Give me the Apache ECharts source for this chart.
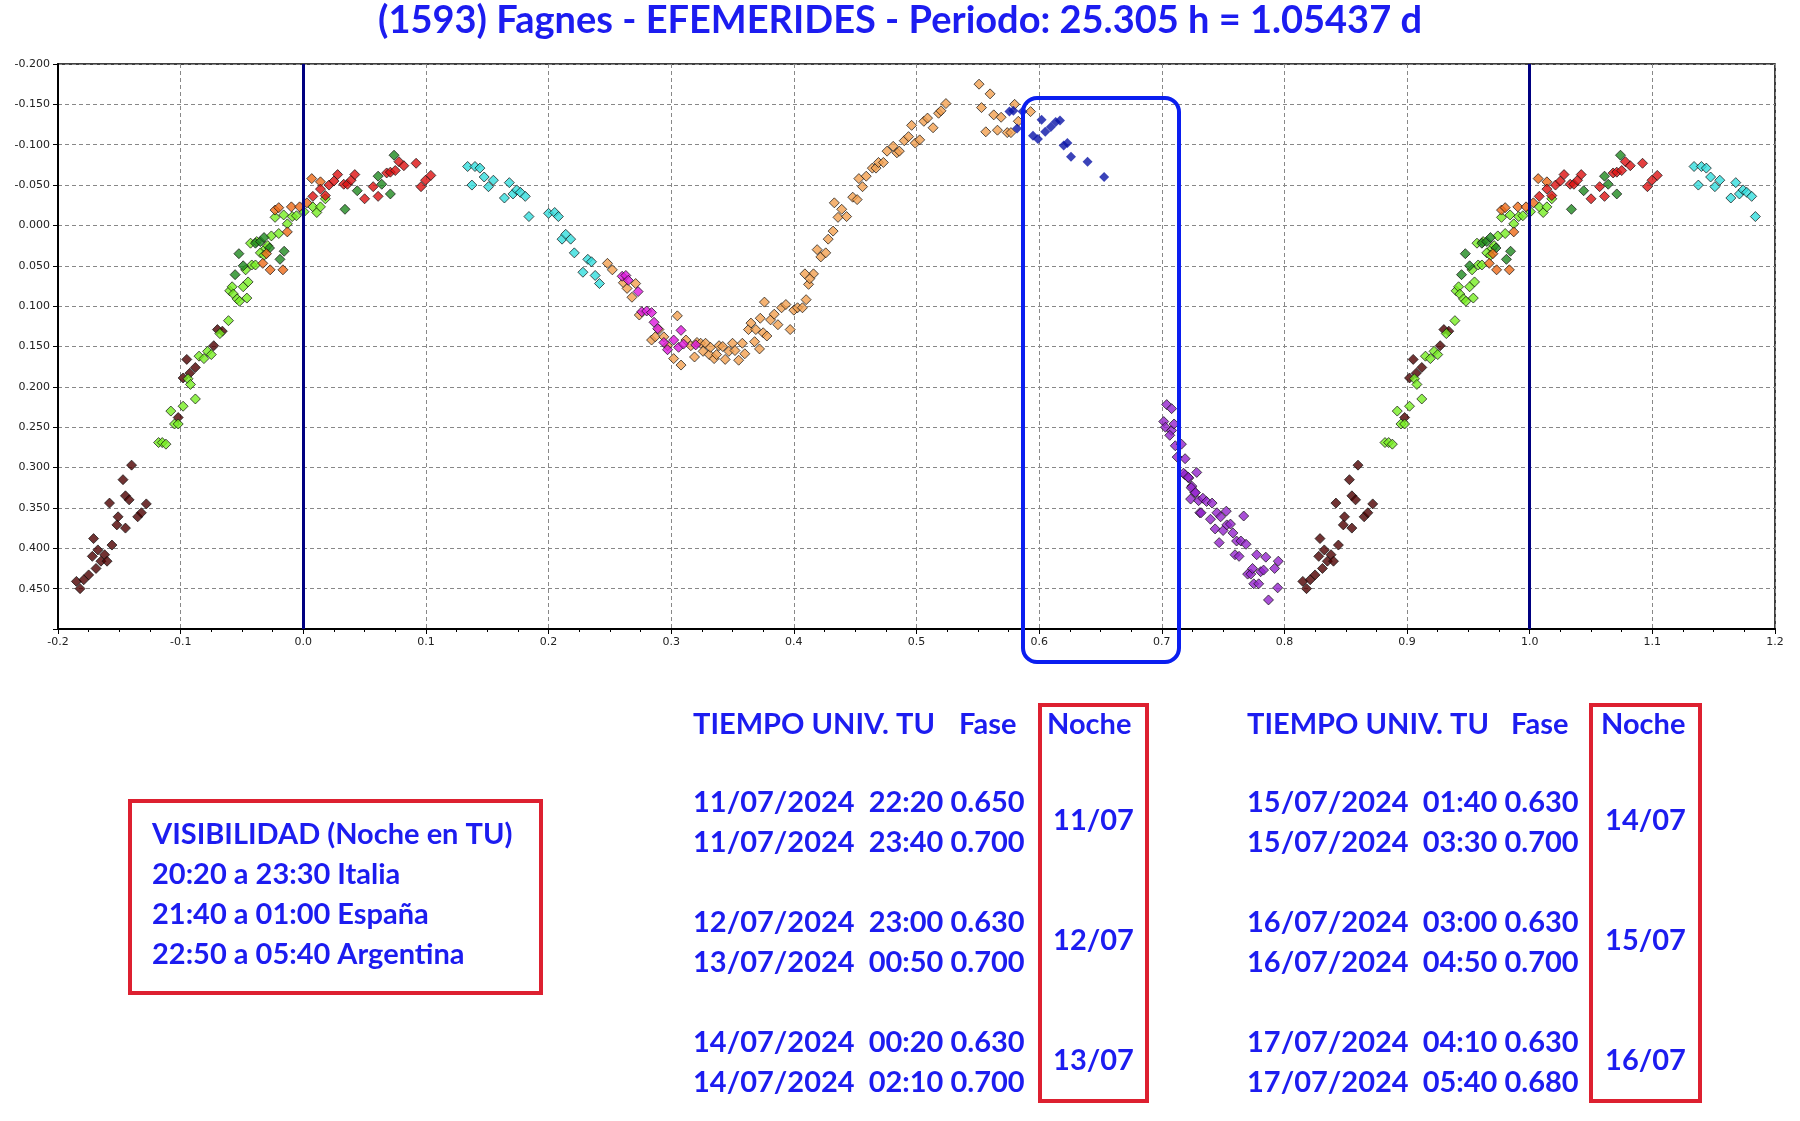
<!DOCTYPE html>
<html><head><meta charset="utf-8">
<script src="https://cdn.jsdelivr.net/npm/echarts@6/dist/echarts.min.js"></script>
<style>html,body{margin:0;padding:0;background:#fff}#c{width:1800px;height:1121px}</style>
</head><body><div id="c"></div>
<script>
// Phase data (phase in [0,1), differential magnitude)
const darkRed=[[0.815,0.441],[0.818,0.450],[0.821,0.439],[0.825,0.433],[0.829,0.388],[0.828,0.410],[0.831,0.425],[0.8325,0.402],[0.835,0.416],[0.838,0.408],[0.840,0.416],[0.842,0.344],[0.844,0.396],[0.849,0.361],[0.848,0.371],[0.853,0.315],[0.855,0.375],[0.855,0.335],[0.858,0.340],[0.860,0.297],[0.865,0.361],[0.868,0.356],[0.872,0.345],[0.898,0.238],[0.902,0.189],[0.905,0.166],[0.9075,0.183],[0.912,0.176],[0.927,0.149],[0.930,0.129],[0.934,0.131]];
const lightGreen=[[0.882,0.269],[0.885,0.269],[0.888,0.271],[0.892,0.230],[0.895,0.246],[0.898,0.246],[0.902,0.224],[0.906,0.190],[0.908,0.197],[0.912,0.215],[0.915,0.162],[0.919,0.165],[0.922,0.156],[0.925,0.160],[0.932,0.134],[0.939,0.118],[0.940,0.081],[0.942,0.076],[0.943,0.085],[0.946,0.091],[0.948,0.094],[0.951,0.076],[0.954,0.090],[0.955,0.070],[0.953,0.055],[0.958,0.049],[0.961,0.049],[0.957,0.022],[0.962,0.020],[0.969,0.029],[0.971,0.025],[0.974,0.013],[0.965,0.034],[0.968,0.037],[0.977,-0.010],[0.980,0.010],[0.984,-0.013],[0.987,-0.002],[0.991,-0.011],[0.9944,-0.012],[0.0006,-0.017],[0.0078,-0.023],[0.011,-0.016],[0.014,-0.023],[0.018,-0.033]];
const darkGreen=[[0.9475,0.035],[0.9444,0.061],[0.951,0.050],[0.961,0.022],[0.965,0.020],[0.968,0.015],[0.9725,0.028],[0.981,0.042],[0.9844,0.032],[0.044,-0.043],[0.034,-0.020],[0.061,-0.061],[0.064,-0.051],[0.071,-0.039],[0.074,-0.087]];
const orange=[[0.977,-0.019],[0.980,-0.022],[0.9903,-0.023],[0.997,-0.023],[0.003,-0.028],[0.0069,-0.058],[0.014,-0.054],[0.987,0.008],[0.967,0.047],[0.973,0.055],[0.9834,0.055],[0.970,0.035]];
const red=[[0.0078,-0.036],[0.014,-0.045],[0.018,-0.037],[0.021,-0.050],[0.025,-0.055],[0.028,-0.063],[0.033,-0.051],[0.036,-0.051],[0.039,-0.056],[0.042,-0.063],[0.050,-0.033],[0.057,-0.048],[0.061,-0.036],[0.068,-0.065],[0.071,-0.066],[0.075,-0.068],[0.078,-0.079],[0.082,-0.074],[0.092,-0.077],[0.096,-0.048],[0.0997,-0.056],[0.104,-0.062]];
const cyan=[[0.134,-0.073],[0.140,-0.073],[0.144,-0.071],[0.1375,-0.050],[0.1475,-0.060],[0.151,-0.048],[0.155,-0.056],[0.164,-0.034],[0.168,-0.053],[0.171,-0.039],[0.174,-0.044],[0.177,-0.041],[0.181,-0.036],[0.184,-0.011],[0.200,-0.015],[0.205,-0.016],[0.208,-0.011],[0.211,0.017],[0.214,0.011],[0.218,0.017],[0.221,0.034],[0.228,0.058],[0.232,0.042],[0.235,0.045],[0.238,0.062],[0.2415,0.072]];
const sand=[[0.248,0.047],[0.252,0.055],[0.261,0.071],[0.264,0.078],[0.268,0.089],[0.271,0.072],[0.274,0.111],[0.284,0.142],[0.287,0.138],[0.290,0.129],[0.294,0.138],[0.297,0.149],[0.302,0.165],[0.305,0.112],[0.308,0.173],[0.312,0.142],[0.316,0.149],[0.319,0.163],[0.321,0.145],[0.324,0.146],[0.326,0.156],[0.328,0.146],[0.331,0.160],[0.332,0.151],[0.335,0.165],[0.337,0.160],[0.339,0.149],[0.342,0.150],[0.344,0.166],[0.347,0.156],[0.350,0.146],[0.352,0.155],[0.355,0.167],[0.358,0.146],[0.360,0.159],[0.363,0.129],[0.365,0.121],[0.368,0.144],[0.369,0.129],[0.372,0.153],[0.3726,0.115],[0.375,0.133],[0.376,0.095],[0.378,0.137],[0.381,0.117],[0.384,0.110],[0.387,0.123],[0.390,0.102],[0.3935,0.098],[0.397,0.129],[0.400,0.105],[0.403,0.102],[0.407,0.102],[0.410,0.092],[0.412,0.073],[0.416,0.060],[0.409,0.060],[0.413,0.066],[0.419,0.030],[0.422,0.039],[0.426,0.034],[0.428,0.017],[0.432,0.007],[0.436,-0.010],[0.439,-0.020],[0.433,-0.028],[0.443,-0.011],[0.448,-0.035],[0.4516,-0.032],[0.453,-0.058],[0.456,-0.048],[0.459,-0.061],[0.464,-0.071],[0.467,-0.071],[0.469,-0.078],[0.473,-0.078],[0.476,-0.092],[0.481,-0.098],[0.484,-0.090],[0.486,-0.092],[0.490,-0.105],[0.4935,-0.110],[0.499,-0.102],[0.5026,-0.106],[0.496,-0.124],[0.506,-0.129],[0.509,-0.133],[0.5135,-0.121],[0.518,-0.139],[0.520,-0.142],[0.524,-0.151],[0.551,-0.175],[0.553,-0.146],[0.560,-0.163],[0.5565,-0.116],[0.563,-0.137],[0.566,-0.118],[0.569,-0.134],[0.574,-0.115],[0.577,-0.115],[0.580,-0.150],[0.583,-0.129],[0.593,-0.141]];
const magenta=[[0.260,0.063],[0.263,0.062],[0.265,0.068],[0.273,0.082],[0.276,0.107],[0.280,0.106],[0.284,0.108],[0.286,0.120],[0.289,0.128],[0.294,0.145],[0.297,0.154],[0.302,0.142],[0.308,0.130],[0.306,0.151],[0.310,0.147],[0.320,0.148]];
const navy=[[0.5758,-0.141],[0.579,-0.142],[0.582,-0.120],[0.5865,-0.141],[0.595,-0.111],[0.599,-0.107],[0.602,-0.131],[0.605,-0.116],[0.6095,-0.122],[0.6135,-0.128],[0.617,-0.130],[0.620,-0.099],[0.623,-0.102],[0.626,-0.085],[0.6395,-0.079],[0.653,-0.060]];
const purple=[[0.704,0.222],[0.708,0.227],[0.7016,0.243],[0.703,0.250],[0.708,0.254],[0.7065,0.260],[0.710,0.246],[0.711,0.273],[0.716,0.271],[0.719,0.289],[0.7125,0.287],[0.719,0.309],[0.722,0.313],[0.7285,0.306],[0.7245,0.323],[0.727,0.331],[0.7235,0.339],[0.731,0.356],[0.7177,0.307],[0.7216,0.312],[0.724,0.325],[0.7274,0.331],[0.730,0.341],[0.732,0.356],[0.7335,0.338],[0.7365,0.342],[0.741,0.344],[0.7397,0.364],[0.7435,0.376],[0.745,0.356],[0.7468,0.393],[0.748,0.361],[0.750,0.378],[0.7526,0.354],[0.753,0.371],[0.756,0.370],[0.758,0.381],[0.7597,0.408],[0.761,0.391],[0.763,0.410],[0.7645,0.391],[0.7668,0.360],[0.7687,0.395],[0.770,0.432],[0.7726,0.432],[0.774,0.425],[0.775,0.444],[0.7774,0.408],[0.779,0.444],[0.7806,0.429],[0.783,0.427],[0.7848,0.411],[0.787,0.464],[0.792,0.425],[0.7945,0.449],[0.795,0.416]];
const yTicks=[-0.2,-0.15,-0.1,-0.05,0,0.05,0.1,0.15,0.2,0.25,0.3,0.35,0.4,0.45];
const titleText='(1593) Fagnes - EFEMERIDES - Periodo: 25.305 h = 1.05437 d';
const tableHeader=['TIEMPO UNIV. TU','Fase','Noche'];
const tableLeft=[['11/07/2024  22:20 0.650','11/07/2024  23:40 0.700','11/07'],['12/07/2024  23:00 0.630','13/07/2024  00:50 0.700','12/07'],['14/07/2024  00:20 0.630','14/07/2024  02:10 0.700','13/07']];
const tableRight=[['15/07/2024  01:40 0.630','15/07/2024  03:30 0.700','14/07'],['16/07/2024  03:00 0.630','16/07/2024  04:50 0.700','15/07'],['17/07/2024  04:10 0.630','17/07/2024  05:40 0.680','16/07']];
const visText=['VISIBILIDAD (Noche en TU)','20:20 a 23:30 Italia','21:40 a 01:00 España','22:50 a 05:40 Argentina'];

function wrap(arr){const out=[];arr.forEach(p=>{out.push(p);if(p[0]>=0.8)out.push([p[0]-1,p[1]]);if(p[0]<0.19)out.push([p[0]+1,p[1]]);});return out;}
const groups=[[darkRed,'#4d0000',true],[lightGreen,'#77ee22',true],[darkGreen,'#1f8a1f',true],[orange,'#ee6a18',true],[red,'#dd1010',true],[cyan,'#33dddd',true],[sand,'#f2a050',true],[magenta,'#dd18dd',true],[navy,'#0a14a8',false],[purple,'#9424cc',true]];
const series=groups.map(g=>({type:'scatter',symbol:'diamond',symbolSize:10,data:wrap(g[0]),
 itemStyle:{color:g[1],borderColor:g[2]?'#111':g[1],borderWidth:g[2]?0.9:0}}));
series.push({type:'scatter',data:[],markLine:{silent:true,symbol:'none',label:{show:false},lineStyle:{color:'#000080',width:3,type:'solid'},data:[{xAxis:0},{xAxis:1}]}});

const blue='#1c1cf0',redB='#dd2030';
const F='bold 29px Lato';
const g=[];
g.push({type:'text',left:'center',top:2,style:{text:titleText,font:'bold 38px Lato',fill:blue}});
g.push({type:'rect',shape:{x:1023,y:98,width:156,height:564,r:14},style:{fill:'none',stroke:'#0a1ef0',lineWidth:4},z:10});
function table(x0,phX,nX,boxX,boxW,rows){
 g.push({type:'text',x:x0,y:710,style:{text:tableHeader[0],font:F,fill:blue}});
 g.push({type:'text',x:phX,y:710,style:{text:tableHeader[1],font:F,fill:blue}});
 g.push({type:'text',x:nX,y:710,style:{text:tableHeader[2],font:F,fill:blue}});
 g.push({type:'rect',shape:{x:boxX,y:705,width:boxW,height:396},style:{fill:'none',stroke:redB,lineWidth:4}});
 rows.forEach((r,i)=>{const y=788+i*120;
  g.push({type:'text',x:x0,y:y,style:{text:r[0],font:F,fill:blue}});
  g.push({type:'text',x:x0,y:y+40,style:{text:r[1],font:F,fill:blue}});
  g.push({type:'text',x:boxX+boxW/2,y:y+18,style:{text:r[2],font:F,fill:blue,align:'center'}});});
}
table(693,959,1047,1040,107,tableLeft);
table(1247,1511,1601,1591,109,tableRight);
g.push({type:'rect',shape:{x:130,y:801,width:411,height:192},style:{fill:'none',stroke:redB,lineWidth:4}});
visText.forEach((t,i)=>g.push({type:'text',x:152,y:820+i*40,style:{text:t,font:F,fill:blue}}));

const chart=echarts.init(document.getElementById('c'));
chart.setOption({animation:false,backgroundColor:'#fff',
 grid:{left:58,right:25,top:64,bottom:492,show:true,borderColor:'#000',borderWidth:1.5},
 xAxis:{type:'value',min:-0.2,max:1.2,interval:0.1,
  axisLine:{onZero:false,lineStyle:{color:'#000',width:2}},axisTick:{show:true,lineStyle:{color:'#000'}},
  minorTick:{show:true,splitNumber:4,length:3,lineStyle:{color:'#000'}},
  axisLabel:{color:'#222',fontSize:11,fontFamily:'DejaVu Sans',formatter:v=>v.toFixed(1)},
  splitLine:{show:true,lineStyle:{color:'#888',type:[4,3]}}},
 yAxis:{type:'value',inverse:true,min:-0.2,max:0.5,interval:0.05,
  axisLine:{onZero:false,lineStyle:{color:'#000',width:2}},axisTick:{show:true,lineStyle:{color:'#000'}},
  axisLabel:{color:'#222',fontSize:11,fontFamily:'DejaVu Sans',formatter:v=>yTicks.some(t=>Math.abs(t-v)<1e-6)?v.toFixed(3):''},
  splitLine:{show:true,lineStyle:{color:'#888',type:[4,3]}}},
 series:series,graphic:g});
</script></body></html>
